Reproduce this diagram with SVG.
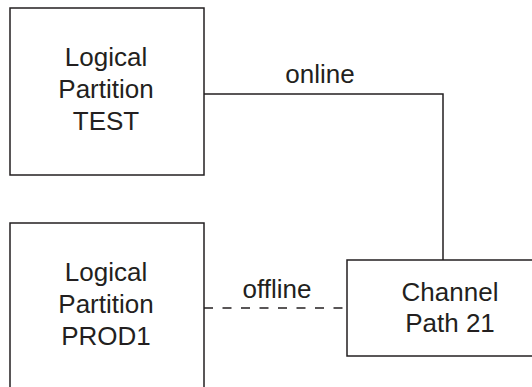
<svg xmlns="http://www.w3.org/2000/svg" width="532" height="387" viewBox="0 0 532 387">
<style>
.box{fill:#fff;stroke:#231f20;stroke-width:1.5}
.conn{fill:none;stroke:#231f20;stroke-width:1.5}
.dash{stroke-dasharray:9 9.5}
text{font-family:"Liberation Sans",Arial,Helvetica,sans-serif;font-size:26px;fill:#231f20;text-anchor:middle}
</style>
<rect width="532" height="387" fill="#fff"/>
<g id="connectors">
<polyline class="conn" points="204,94 443,94 443,260"/>
<line class="conn dash" x1="204" y1="308" x2="347" y2="308"/>
<text x="320" y="83">online</text>
<text x="277" y="298">offline</text>
</g>
<g id="lpar-test">
<rect class="box" x="10" y="8" width="194" height="167"/>
<text x="106" y="66">Logical</text>
<text x="106" y="98">Partition</text>
<text x="106" y="130">TEST</text>
</g>
<g id="lpar-prod1">
<rect class="box" x="10" y="223" width="194" height="190"/>
<text x="106" y="281">Logical</text>
<text x="106" y="313">Partition</text>
<text x="106" y="345">PROD1</text>
</g>
<g id="channel-path">
<rect class="box" x="347" y="260" width="206" height="96"/>
<text x="450" y="301">Channel</text>
<text x="450" y="332">Path 21</text>
</g>
</svg>
